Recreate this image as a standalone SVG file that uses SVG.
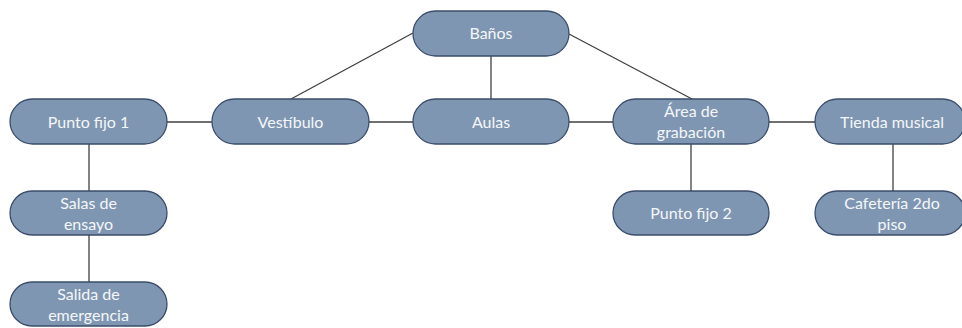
<svg xmlns="http://www.w3.org/2000/svg" width="962" height="328" viewBox="0 0 962 328">
<style>
.n rect{fill:#7F96B2;stroke:#3A4D6B;stroke-width:1.3}
.n text{font-family:Lato,"Open Sans","Liberation Sans",sans-serif;font-size:16px;fill:#F4F6F9;text-anchor:middle}
.c line{stroke:#404040;stroke-width:1.3}
</style>
<rect width="962" height="328" fill="#fff"/>
<g class="c" id="connectors">
<line x1="413" y1="33" x2="291" y2="99"/>
<line x1="491" y1="56" x2="491" y2="99"/>
<line x1="569" y1="34" x2="692" y2="99"/>
<line x1="167" y1="122" x2="212" y2="122"/>
<line x1="369" y1="122" x2="413" y2="122"/>
<line x1="569" y1="122" x2="613" y2="122"/>
<line x1="769" y1="122" x2="815" y2="122"/>
<line x1="89" y1="144" x2="89" y2="191"/>
<line x1="89" y1="235" x2="89" y2="282"/>
<line x1="691" y1="144" x2="691" y2="191"/>
<line x1="893" y1="144" x2="893" y2="191"/>
</g>
<g class="n" id="banos"><rect x="413" y="11" width="156" height="45" rx="22.5"/><text x="491" y="39">Baños</text></g>
<g class="n" id="punto-fijo-1"><rect x="10" y="99" width="157" height="45" rx="22.5"/><text x="88.5" y="127.5">Punto fijo 1</text></g>
<g class="n" id="vestibulo"><rect x="212" y="99" width="157" height="45" rx="22.5"/><text x="290.5" y="127.5">Vestíbulo</text></g>
<g class="n" id="aulas"><rect x="413" y="99" width="156" height="45" rx="22.5"/><text x="491" y="127.5">Aulas</text></g>
<g class="n" id="area-grabacion"><rect x="613" y="99" width="156" height="45" rx="22.5"/><text x="691" y="116.5">Área de</text><text x="691" y="137.5">grabación</text></g>
<g class="n" id="tienda-musical"><rect x="815" y="99" width="150" height="45" rx="22.5"/><text x="892" y="127.5">Tienda musical</text></g>
<g class="n" id="salas-ensayo"><rect x="10" y="191" width="157" height="44" rx="22"/><text x="88.5" y="208.5">Salas de</text><text x="88.5" y="229.5">ensayo</text></g>
<g class="n" id="punto-fijo-2"><rect x="613" y="191" width="156" height="44" rx="22"/><text x="691" y="218.5">Punto fijo 2</text></g>
<g class="n" id="cafeteria"><rect x="815" y="191" width="150" height="44" rx="22"/><text x="892" y="208.5">Cafetería 2do</text><text x="892" y="229.5">piso</text></g>
<g class="n" id="salida-emergencia"><rect x="10" y="282" width="157" height="44" rx="22"/><text x="88.5" y="299.5">Salida de</text><text x="88.5" y="320.5">emergencia</text></g>
</svg>
